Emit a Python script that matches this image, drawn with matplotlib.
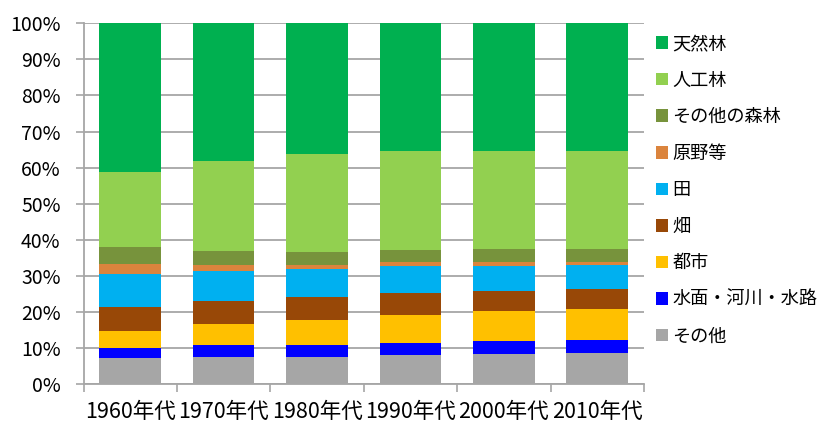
import matplotlib
matplotlib.use("Agg")
import matplotlib.pyplot as plt
from matplotlib.patches import Patch
from matplotlib.ticker import FuncFormatter, MultipleLocator
import numpy as np

plt.rcParams['font.family'] = ['Noto Sans CJK JP', 'DejaVu Sans']

decades = ["1960年代", "1970年代", "1980年代", "1990年代", "2000年代", "2010年代"]

# bottom to top
series_names = ["その他", "水面・河川・水路", "都市", "畑", "田", "原野等", "その他の森林", "人工林", "天然林"]
sonota     = [7.2, 7.5, 7.4, 8.0, 8.4, 8.5]
suimen     = [2.8, 3.4, 3.5, 3.3, 3.4, 3.6]
toshi      = [4.6, 5.7, 6.9, 7.9, 8.4, 8.7]
hatake     = [6.8, 6.5, 6.4, 6.1, 5.6, 5.4]
ta         = [9.1, 8.3, 7.8, 7.3, 6.9, 6.7]
genya      = [2.8, 1.6, 1.0, 1.1, 1.1, 0.9]
sonota_shinrin = [4.6, 4.0, 3.7, 3.5, 3.5, 3.5]
jinkourin  = [21.0, 24.9, 27.2, 27.5, 27.4, 27.4]
tennenrin  = [41.1, 38.1, 36.1, 35.3, 35.3, 35.3]

series_values = [sonota, suimen, toshi, hatake, ta, genya, sonota_shinrin, jinkourin, tennenrin]
colors = ["#A6A6A6", "#0000FF", "#FFC000", "#984807", "#00B0F0", "#DB843D", "#77933C", "#92D050", "#00B050"]

fig = plt.figure(figsize=(8.22, 4.23), dpi=100)
W, H = 822, 423
ax = fig.add_axes([83.5 / W, 1 - 384 / H, (644 - 83.5) / W, (384 - 23.3) / H])

x = np.arange(len(decades))
bottom = np.zeros(len(decades))
handles = []
for name, vals, c in zip(series_names, series_values, colors):
    v = np.array(vals)
    ax.bar(x, v, bottom=bottom, width=0.66, color=c, zorder=3, linewidth=0)
    bottom += v
    handles.append(Patch(facecolor=c, edgecolor='none', label=name))

ax.set_xlim(-0.5, len(decades) - 0.5)
ax.set_ylim(0, 100)
ax.yaxis.set_major_locator(MultipleLocator(10))
ax.yaxis.set_major_formatter(FuncFormatter(lambda v, p: f"{int(round(v))}%"))
ax.grid(axis='y', color='#A6A6A6', linewidth=1.3, zorder=0)
ax.set_axisbelow(True)

ax.set_xticks(x)
ax.set_xticklabels(decades)
ax.set_xticks(np.arange(-0.5, len(decades)), minor=True)
ax.tick_params(axis='x', which='major', length=0, labelsize=15.5, pad=12, colors='black')
ax.tick_params(axis='x', which='minor', length=6, width=1.2, color='#A6A6A6', direction='out')
ax.tick_params(axis='y', which='major', length=6, width=1.2, color='#A6A6A6', labelsize=14, pad=10.5)

for s in ['top', 'right']:
    ax.spines[s].set_visible(False)
for s in ['left', 'bottom']:
    ax.spines[s].set_color('#A6A6A6')
    ax.spines[s].set_linewidth(1.3)

leg = fig.legend(handles[::-1], series_names[::-1], loc='upper left',
                 bbox_to_anchor=(656 / W, 1 - 35 / H), frameon=False,
                 fontsize=13.1, handlelength=0.68, handleheight=0.68,
                 handletextpad=0.22, labelspacing=1.02, borderaxespad=0, borderpad=0)

fig.savefig("out.png", dpi=100)
